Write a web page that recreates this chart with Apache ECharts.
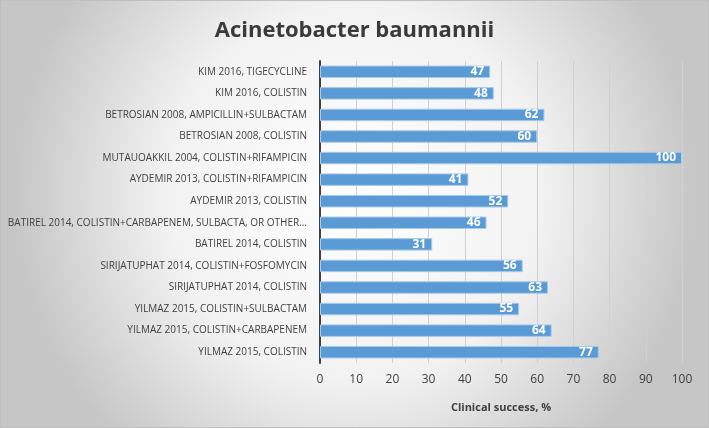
<!DOCTYPE html>
<html><head><meta charset="utf-8">
<script src="https://cdn.jsdelivr.net/npm/echarts@6/dist/echarts.min.js"></script>
<style>html,body{margin:0;padding:0;}#c{width:709px;height:428px;}</style>
</head><body><div id="c"></div>
<script>
const categories = [
  'KIM 2016, TIGECYCLINE',
  'KIM 2016, COLISTIN',
  'BETROSIAN 2008, AMPICILLIN+SULBACTAM',
  'BETROSIAN 2008, COLISTIN',
  'MUTAUOAKKIL 2004, COLISTIN+RIFAMPICIN',
  'AYDEMIR 2013, COLISTIN+RIFAMPICIN',
  'AYDEMIR 2013, COLISTIN',
  'BATIREL 2014, COLISTIN+CARBAPENEM, SULBACTA, OR OTHER...',
  'BATIREL 2014, COLISTIN',
  'SIRIJATUPHAT 2014, COLISTIN+FOSFOMYCIN',
  'SIRIJATUPHAT 2014, COLISTIN',
  'YILMAZ 2015, COLISTIN+SULBACTAM',
  'YILMAZ 2015, COLISTIN+CARBAPENEM',
  'YILMAZ 2015, COLISTIN'
];
const values = [47, 48, 62, 60, 100, 41, 52, 46, 31, 56, 63, 55, 64, 77];
const titleText = 'Acinetobacter baumannii';
const xAxisName = 'Clinical success, %';

const chart = echarts.init(document.getElementById('c'), null, {renderer: 'canvas'});
chart.setOption({
  animation: false,
  backgroundColor: {
    type: 'radial', x: 0.5, y: 0.45, r: 0.8,
    colorStops: [{offset: 0, color: '#ffffff'}, {offset: 0.55, color: '#f2f2f2'}, {offset: 1, color: '#c6c6c6'}]
  },
  title: {
    text: titleText, left: 'center', top: 15,
    textStyle: {fontFamily: 'Open Sans', fontWeight: 'bold', fontSize: 22, color: '#3a3a3a'}
  },
  graphic: [{
    type: 'rect', shape: {x: 0.5, y: 0.5, width: 708, height: 427},
    style: {fill: 'none', stroke: '#bfbfbf', lineWidth: 1}, silent: true
  }],
  grid: {left: 320, right: 27, top: 61, bottom: 65, containLabel: false, outerBoundsMode: 'none'},
  xAxis: {
    type: 'value', min: 0, max: 100, interval: 10,
    axisLine: {show: false}, axisTick: {show: false},
    splitLine: {lineStyle: {color: '#d0d0d0', width: 1}},
    axisLabel: {color: '#404040', fontSize: 12, fontFamily: 'Open Sans', margin: 11},
    name: xAxisName, nameLocation: 'middle', nameGap: 39,
    nameTextStyle: {color: '#404040', fontSize: 11, fontWeight: 'bold', fontFamily: 'Open Sans'}
  },
  yAxis: {
    type: 'category', data: categories, inverse: true,
    axisLine: {lineStyle: {color: '#404040', width: 2}},
    axisTick: {show: false},
    axisLabel: {color: '#404040', fontSize: 10, fontFamily: 'Open Sans', margin: 13}
  },
  series: [{
    type: 'bar', data: values, barCategoryGap: '42%',
    itemStyle: {color: '#5b9bd5', borderColor: '#a9cbea', borderWidth: 1},
    label: {show: true, position: 'insideRight', distance: 6, color: '#ffffff', fontWeight: 'bold', fontSize: 12, fontFamily: 'Open Sans'}
  }]
});
</script></body></html>
